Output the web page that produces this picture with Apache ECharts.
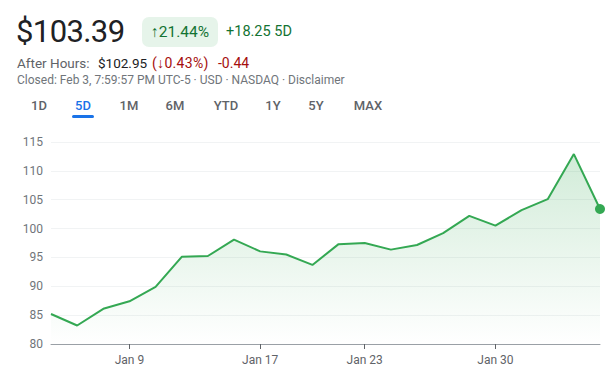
<!DOCTYPE html>
<html>
<head>
<meta charset="utf-8">
<script src="https://cdn.jsdelivr.net/npm/echarts@6/dist/echarts.min.js"></script>
<style>
  html, body { margin: 0; padding: 0; background: #fff; }
  body { width: 615px; height: 390px; position: relative; overflow: hidden; font-family: Roboto, Arial, sans-serif; }
  .abs { position: absolute; white-space: nowrap; }
  #price { left: 16px; top: 10px; font-size: 31px; color: #202124; line-height: 44px; letter-spacing: -0.6px; }
  #badge { left: 142px; top: 17px; width: 76px; height: 30px; background: #e6f4ea; border-radius: 7px; color: #137333; font-size: 15.5px; line-height: 30px; text-align: center; }
  #chg { left: 226px; top: 22px; font-size: 14.5px; color: #137333; line-height: 20px; }
  .ah { top: 53px; font-size: 14px; line-height: 20px; }
  #ahl { left: 17px; color: #5f6368; font-size: 13.5px; }
  #ahp { left: 98px; color: #202124; font-size: 13.5px; }
  #ahr1 { left: 152px; color: #a50e0e; letter-spacing: 0.3px; }
  #ahr2 { left: 218px; color: #a50e0e; }
  #closed { left: 17px; top: 72px; font-size: 12px; line-height: 16px; color: #70757a; }
  .tab { top: 97px; font-size: 13px; font-weight: 500; color: #5f6368; line-height: 18px; transform: translateX(-50%); }
  .tab.on { color: #1a73e8; }
  #ul { left: 72px; top: 115px; width: 22px; height: 3px; background: #1a73e8; border-radius: 2px; }
  #chart { position: absolute; left: 0; top: 0; width: 615px; height: 390px; }
</style>
</head>
<body>
<div id="chart"></div>
<div class="abs" id="price">$103.39</div>
<div class="abs" id="badge">↑21.44%</div>
<div class="abs" id="chg">+18.25 5D</div>
<div class="abs ah" id="ahl">After Hours:</div>
<div class="abs ah" id="ahp">$102.95</div>
<div class="abs ah" id="ahr1">(↓0.43%)</div>
<div class="abs ah" id="ahr2">-0.44</div>
<div class="abs" id="closed">Closed: Feb 3, 7:59:57 PM UTC-5 · USD · NASDAQ · Disclaimer</div>
<div id="tabs"></div>
<div class="abs" id="ul"></div>
<script>
const ranges = ['1D','5D','1M','6M','YTD','1Y','5Y','MAX'];
const tabCenters = [39, 83, 129, 175, 226, 273, 316, 368];
const dates = ['Jan 4','Jan 5','Jan 6','Jan 9','Jan 10','Jan 11','Jan 12','Jan 13','Jan 17','Jan 18','Jan 19','Jan 20','Jan 23','Jan 24','Jan 25','Jan 26','Jan 27','Jan 30','Jan 31','Feb 1','Feb 2','Feb 3'];
const prices = [85.2, 83.2, 86.1, 87.4, 89.9, 95.1, 95.25, 98.1, 96.05, 95.5, 93.7, 97.3, 97.5, 96.35, 97.15, 99.2, 102.2, 100.5, 103.2, 105.1, 112.9, 103.39];
const tickLabels = ['Jan 9', 'Jan 17', 'Jan 23', 'Jan 30'];

const tabsEl = document.getElementById('tabs');
ranges.forEach((r, i) => {
  const d = document.createElement('div');
  d.className = 'abs tab' + (r === '5D' ? ' on' : '');
  d.style.left = tabCenters[i] + 'px';
  d.textContent = r;
  tabsEl.appendChild(d);
});

const chart = echarts.init(document.getElementById('chart'), null, { renderer: 'svg' });
const showTick = (idx) => tickLabels.indexOf(dates[idx]) >= 0;
chart.setOption({
  animation: false,
  grid: { left: 51, right: 15, top: 142, bottom: 46 },
  xAxis: {
    type: 'category',
    data: dates,
    boundaryGap: false,
    axisLine: { lineStyle: { color: '#9aa0a6', width: 1 } },
    axisTick: { show: true, length: 5, lineStyle: { color: '#5f6368' }, interval: (idx) => showTick(idx) },
    axisLabel: { interval: (idx) => showTick(idx), color: '#5f6368', fontSize: 12, margin: 10, fontFamily: 'Roboto' },
    splitLine: { show: false }
  },
  yAxis: {
    type: 'value',
    min: 80, max: 115, interval: 5,
    axisLine: { show: false },
    axisTick: { show: false },
    axisLabel: { color: '#70757a', fontSize: 12, margin: 8, fontFamily: 'Roboto' },
    splitLine: { lineStyle: { color: '#f1f3f4', width: 1 } }
  },
  series: [{
    type: 'line',
    data: prices,
    showSymbol: true,
    showAllSymbol: true,
    symbol: 'circle',
    symbolSize: (v, p) => p.dataIndex === prices.length - 1 ? 10 : 0,
    itemStyle: { color: '#34a853' },
    lineStyle: { color: '#34a853', width: 2 },
    areaStyle: {
      color: new echarts.graphic.LinearGradient(0, 0, 0, 1, [
        { offset: 0, color: 'rgba(52,168,83,0.32)' },
        { offset: 1, color: 'rgba(52,168,83,0)' }
      ])
    }
  }]
});
</script>
</body>
</html>
